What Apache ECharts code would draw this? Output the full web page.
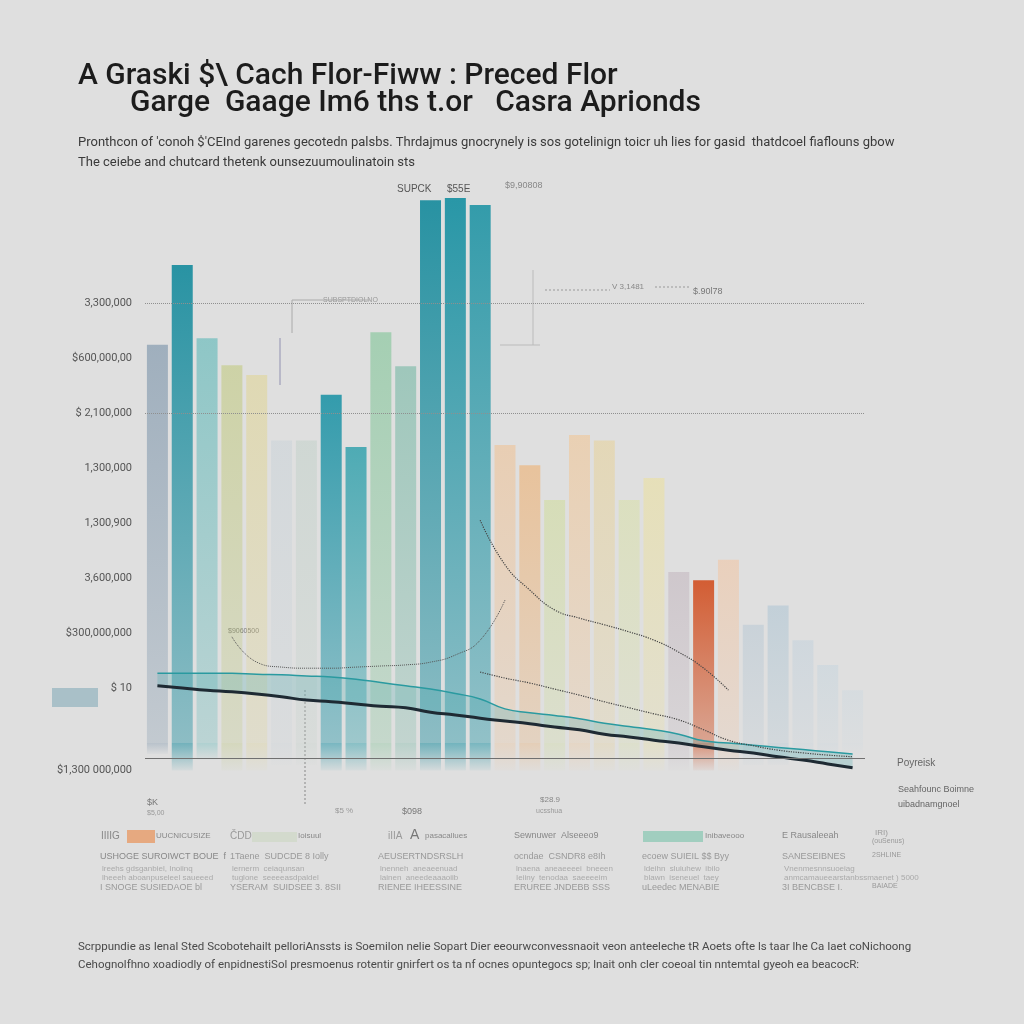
<!DOCTYPE html>
<html><head><meta charset="utf-8">
<script src="https://cdn.jsdelivr.net/npm/echarts@6/dist/echarts.min.js"></script>
<style>html,body{margin:0;padding:0;background:#dfdfdf;}#c{width:1024px;height:1024px;}</style>
</head><body><div id="c"></div>
<script>
// ---- data ----
const categories = ['B01','B02','B03','B04','B05','B06','B07','B08','B09','B10','B11','B12','B13','B14','B15','B16','B17','B18','B19','B20','B21','B22','B23','B24','B25','B26','B27','B28','B29'];
const barValues = [7.24,8.69,7.36,6.87,6.69,5.5,5.5,6.33,5.38,7.47,6.85,9.87,9.91,9.78,5.42,5.05,4.42,5.6,5.5,4.42,4.82,3.11,2.96,3.33,2.15,2.5,1.87,1.42,0.96];
const reflectValues = [-0.2,-0.5,-0.3,-0.9,-0.9,-0.4,-0.4,-0.6,-0.5,-0.8,-0.7,-0.6,-0.5,-0.6,-0.9,-1.0,-0.8,-0.9,-0.9,-0.7,-0.6,-0.5,-0.5,-0.6,-0.4,-0.4,-0.3,-0.3,-0.2];
const flowLine = [1.04,1.0,0.96,0.93,0.89,0.84,0.78,0.75,0.71,0.67,0.64,0.56,0.51,0.45,0.40,0.35,0.29,0.24,0.16,0.11,0.05,0,-0.07,-0.13,-0.18,-0.25,-0.31,-0.38,-0.45];
const tealLine = [1.27,1.27,1.27,1.27,1.25,1.24,1.22,1.2,1.16,1.1,1.04,0.98,0.9,0.8,0.62,0.55,0.5,0.44,0.36,0.3,0.24,0.16,0.04,0.0,-0.04,-0.08,-0.12,-0.16,-0.2];
const dotCurveA = [null,null,null,1.93,1.47,1.38,1.36,1.36,1.38,1.4,1.42,1.47,1.6,1.87,2.6,null,null,null,null,null,null,null,null,null,null,null,null,null,null];
const dotCurveB = [null,null,null,null,null,null,null,null,null,null,null,null,null,4.05,3.24,2.78,2.42,2.27,2.15,2.02,1.87,1.65,1.36,0.96,null,null,null,null,null];
const dotCurveC = [null,null,null,null,null,null,null,null,null,null,null,null,null,1.29,1.18,1.09,0.98,0.87,0.75,0.64,0.53,0.42,0.24,0.05,-0.05,-0.13,-0.18,-0.22,-0.25];
const yTickValues = [8,7,6,5,4,3,2,1,-0.5];
const yTickLabels = ['3,300,000','$600,000,00','$ 2,100,000','1,300,000','1,300,900','3,600,000','$300,000,000','$ 10','$1,300 000,000'];
const refLineValues = [8,6];
const baselineValue = -0.27;

// ---- styles ----
const barColors = ['#8a9fb2','#1f8fa0','#6cbcbc','#bfc878','#e0d490','#c8d2d8','#c0d0c8','#2596a8','#35a2ad','#8cc8a0','#7cbaa8','#1e8e9f','#1f93a4','#2596a6','#f0c090','#eeb070','#cfdc98','#f2c490','#e8d090','#d8e0a0','#ece09a','#c4b8c0','#d2562a','#f2c4a0','#b8c8d4','#b0c6d4','#c0d0dc','#c4d4de','#ccd8e0'];
const barAlpha = [0.75,0.95,0.7,0.55,0.55,0.5,0.5,0.92,0.85,0.7,0.65,0.95,0.95,0.92,0.55,0.6,0.55,0.55,0.5,0.5,0.55,0.6,0.95,0.55,0.55,0.6,0.5,0.5,0.45];
function rgba(hex,a){const n=parseInt(hex.slice(1),16);return 'rgba('+(n>>16)+','+((n>>8)&255)+','+(n&255)+','+a+')';}

const chart = echarts.init(document.getElementById('c'));
const bandDiff = tealLine.map((v,i)=>v-flowLine[i]);

function txt(x,y,s,size,color,extra){return Object.assign({type:'text',left:x,top:y,style:Object.assign({text:s,font:(size||10)+'px "Liberation Sans", Arial, sans-serif',fill:color||'#777'},extra||{})});}

const graphics = [
  {type:'text',left:78,top:61,style:{text:'A Graski $\\ Cach Flor\u2010Fiww : Preced Flor',font:'500 30px Roboto, sans-serif',fill:'#1c1c1c'}},
  {type:'text',left:130,top:88,style:{text:'Garge  Gaage Im6 ths t.or   Casra Aprionds',font:'500 30px Roboto, sans-serif',fill:'#1c1c1c'}},
  {type:'text',left:78,top:136,style:{text:"Pronthcon of 'conoh $'CEInd garenes gecotedn palsbs. Thrdajmus gnocrynely is sos gotelinign toicr uh lies for gasid  thatdcoel fiaflouns gbow",font:'13px Roboto, sans-serif',fill:'#3a3a3a'}},
  {type:'text',left:78,top:156,style:{text:'The ceiebe and chutcard thetenk ounsezuumoulinatoin sts',font:'13px Roboto, sans-serif',fill:'#3a3a3a'}},
  {type:'text',left:78,top:941,style:{text:'Scrppundie as Ienal Sted Scobotehailt pelloriAnssts is Soemilon nelie Sopart Dier eeourwconvessnaoit veon anteeleche tR Aoets ofte ls taar lhe Ca Iaet coNichoong',font:'11.5px Roboto, sans-serif',fill:'#4a4a4a'}},
  {type:'text',left:78,top:959,style:{text:'Cehognolfhno xoadiodly of enpidnestiSol presmoenus rotentir gnirfert os ta nf ocnes opuntegocs sp; lnait onh cler coeoal tin nntemtal gyeoh ea beacocR:',font:'11.5px Roboto, sans-serif',fill:'#4a4a4a'}},
  {type:'rect',shape:{x:52,y:688,width:46,height:19},style:{fill:'#a9c0c8'}},
  // top annotations
  txt(397,184,'SUPCK',10,'#555',{textDecoration:'underline'}),
  txt(447,184,'$55E',10,'#555'),
  txt(505,181,'$9,90808',9,'#888'),
  txt(612,283,'V 3,1481',8,'#888'),
  txt(693,287,'$.90l78',9,'#777'),
  txt(323,297,'SUBSPTDIOLNO',7,'#999'),
  {type:'line',shape:{x1:292,y1:300,x2:370,y2:300},style:{stroke:'#aaa',lineWidth:1}},
  {type:'line',shape:{x1:292,y1:300,x2:292,y2:333},style:{stroke:'#aaa',lineWidth:1}},
  {type:'line',shape:{x1:280,y1:338,x2:280,y2:385},style:{stroke:'#b8b8c8',lineWidth:2}},
  {type:'line',shape:{x1:533,y1:270,x2:533,y2:345},style:{stroke:'#bbb',lineWidth:1}},
  {type:'line',shape:{x1:545,y1:290,x2:610,y2:290},style:{stroke:'#999',lineWidth:1,lineDash:[2,2]}},
  {type:'line',shape:{x1:655,y1:287,x2:690,y2:287},style:{stroke:'#999',lineWidth:1,lineDash:[2,2]}},
  {type:'line',shape:{x1:500,y1:345,x2:540,y2:345},style:{stroke:'#bbb',lineWidth:1}},
  {type:'line',shape:{x1:305,y1:690,x2:305,y2:805},style:{stroke:'#888',lineWidth:1,lineDash:[2,2]}},
  txt(228,628,'$9060500',7,'#777'),
  // lower small labels
  txt(147,798,'$K',9,'#777'), txt(147,810,'$5,00',7,'#999'),
  txt(335,807,'$5 %',8,'#999'), txt(402,807,'$098',9,'#777'),
  txt(540,796,'$28.9',8,'#888'), txt(536,808,'ucsshua',7,'#999'),
  // right labels
  txt(897,758,'Poyreisk',10,'#666'),
  txt(898,785,'Seahfounc Boimne',9,'#666'),
  txt(898,800,'uibadnamgnoel',9,'#666'),
  // bottom groups
  txt(101,831,'IIIIG',10,'#888'), {type:'rect',shape:{x:127,y:830,width:28,height:13},style:{fill:'#e8a070',opacity:0.85}}, txt(156,832,'UUCNICUSIZE',8,'#888'),
  txt(100,852,'USHOGE SUROIWCT BOUE  f',9,'#888'),
  txt(102,865,'lreehs gdsganbiel, Inoiinq',8,'#aaa'), txt(102,874,'lheeeh aboanpuseleel saueeed',8,'#aaa'),
  txt(100,883,'I SNOGE SUSIEDAOE bl',9,'#999'),
  txt(230,831,'ČDD',10,'#999'), {type:'rect',shape:{x:252,y:832,width:45,height:10},style:{fill:'#d0d8c8',opacity:0.8}}, txt(298,832,'Ioisuul',8,'#888'),
  txt(230,852,'1Taene  SUDCDE 8 Iolly',9,'#999'),
  txt(232,865,'lernerm  ceiaqunsan',8,'#aaa'), txt(232,874,'tuglone  seeeeasdpaldel',8,'#aaa'),
  txt(230,883,'YSERAM  SUIDSEE 3. 8SII',9,'#999'),
  txt(388,831,'iIIA',10,'#999'), txt(410,828,'A',14,'#777'), txt(425,832,'pasacallues',8,'#888'),
  txt(378,852,'AEUSERTNDSRSLH',9,'#999'),
  txt(380,865,'lnenneh  aneaeenuad',8,'#aaa'), txt(380,874,'lainen  aneedeaaaoiib',8,'#aaa'),
  txt(378,883,'RIENEE IHEESSINE',9,'#999'),
  txt(514,831,'Sewnuwer  Alseeeo9',9,'#888'),
  txt(514,852,'ocndae  CSNDR8 e8Ih',9,'#999'),
  txt(516,865,'lnaena  aneaeeeei  bneeen',8,'#aaa'), txt(516,874,'Ieiiny  tenodaa  saeeeeim',8,'#aaa'),
  txt(514,883,'ERUREE JNDEBB SSS',9,'#999'),
  {type:'rect',shape:{x:643,y:831,width:60,height:11},style:{fill:'#8cc8b4',opacity:0.75}}, txt(705,832,'Inibaveooo',8,'#888'),
  txt(642,852,'ecoew SUIEIL $$ Byy',9,'#999'),
  txt(644,865,'ldeihn  sluiuhew  ibilo',8,'#aaa'), txt(644,874,'blawn  iseneuel  taey',8,'#aaa'),
  txt(642,883,'uLeedec MENABIE',9,'#999'),
  txt(782,831,'E Rausaleeah',9,'#888'), txt(875,829,'IRI)',8,'#999'), txt(872,838,'(ouSenus)',7,'#999'),
  txt(782,852,'SANESEIBNES',9,'#999'), txt(872,852,'2SHLINE',7,'#999'),
  txt(784,865,'Vnenmesnnsuoeiag',8,'#aaa'), txt(784,874,'anmcamaueearstanbssmaenet ) 5000',8,'#aaa'),
  txt(782,883,'3I BENCBSE I.',9,'#999'), txt(872,883,'BAIADE',7,'#999')
];

const option = {
  backgroundColor:'#dfdfdf',
  animation:false,
  grid:{left:145,right:159,top:193,bottom:253.5},
  xAxis:{type:'category',data:categories,boundaryGap:true,axisLine:{show:false},axisTick:{show:false},axisLabel:{show:false},splitLine:{show:false}},
  yAxis:{type:'value',min:-0.5,max:10,interval:0.5,splitLine:{show:false},axisLine:{show:false},axisTick:{show:false},
    axisLabel:{margin:13,color:'#555',fontSize:11,fontFamily:'Roboto, sans-serif',
      formatter:v=>{const i=yTickValues.findIndex(t=>Math.abs(t-v)<1e-6);return i<0?'':yTickLabels[i];}}},
  graphic:graphics,
  series:[
    {type:'bar',name:'bars',data:barValues,barWidth:21,barGap:'-100%',z:2,
      itemStyle:{color:p=>new echarts.graphic.LinearGradient(0,0,0,1,[{offset:0,color:rgba(barColors[p.dataIndex],barAlpha[p.dataIndex])},{offset:1,color:rgba(barColors[p.dataIndex],barAlpha[p.dataIndex]*0.45)}])},
      markLine:{silent:true,symbol:'none',label:{show:false},
        data:refLineValues.map(v=>({yAxis:v,lineStyle:{type:'dotted',color:'#8f8f8f',width:1}})).concat([{yAxis:baselineValue,lineStyle:{type:'solid',color:'#707070',width:1}}])}},
    {type:'bar',name:'reflect',data:reflectValues,barWidth:21,barGap:'-100%',z:1,
      itemStyle:{color:p=>new echarts.graphic.LinearGradient(0,0,0,1,[{offset:0,color:rgba(barColors[p.dataIndex],barAlpha[p.dataIndex]*0.6)},{offset:1,color:rgba(barColors[p.dataIndex],0.05)}])}},
    {type:'line',name:'base',data:flowLine,stack:'band',stackStrategy:'all',smooth:true,symbol:'none',lineStyle:{width:0},z:3},
    {type:'line',name:'band',data:bandDiff,stack:'band',stackStrategy:'all',smooth:true,symbol:'none',lineStyle:{color:'#2a9aa0',width:1.5},areaStyle:{color:'rgba(60,165,170,0.35)'},z:3},
    {type:'line',name:'flow',data:flowLine,smooth:true,symbol:'none',lineStyle:{color:'#1e2a33',width:3},z:4},
    {type:'line',name:'dotA',data:dotCurveA,smooth:true,symbol:'none',connectNulls:false,lineStyle:{color:'#555',width:1,type:'dotted'},z:4},
    {type:'line',name:'dotB',data:dotCurveB,smooth:true,symbol:'none',lineStyle:{color:'#444',width:1.2,type:'dotted'},z:4},
    {type:'line',name:'dotC',data:dotCurveC,smooth:true,symbol:'none',lineStyle:{color:'#444',width:1.2,type:'dotted'},z:4}
  ]
};
chart.setOption(option);
</script></body></html>
